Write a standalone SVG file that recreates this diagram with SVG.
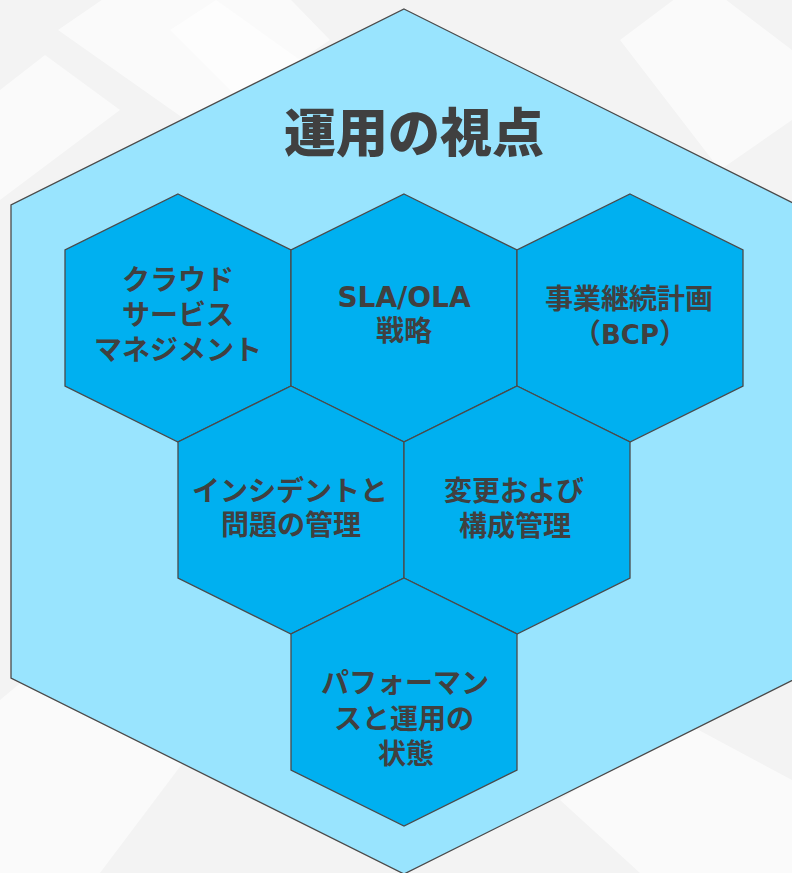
<svg xmlns="http://www.w3.org/2000/svg" width="792" height="873" viewBox="0 0 792 873">
  <defs>
    <style>
      .bg-shape { fill: #ffffff; opacity: 0.6; }
      .outer { fill: #99E4FE; stroke: #4A4A4A; stroke-width: 1.3; }
      .hex { fill: #00B0F0; stroke: #4A4A4A; stroke-width: 1.3; }
      .title { font-family: "Noto Sans CJK JP", "Noto Sans", sans-serif; font-weight: 900; font-size: 52px; fill: #404040; text-anchor: middle; }
      .lbl { font-family: "Noto Sans CJK JP", "Noto Sans", sans-serif; font-weight: 700; font-size: 28px; fill: #404040; text-anchor: middle; }
      .lat { font-family: "DejaVu Sans", "Noto Sans CJK JP", sans-serif; font-weight: 700; }
    </style>
  </defs>
  <rect x="0" y="0" width="792" height="873" fill="#F3F3F3"/>
  <g id="background">
    <polygon class="bg-shape" points="58,30 160,-40 300,60 200,130"/>
    <polygon class="bg-shape" points="170,30 262,-30 330,40 240,100"/>
    <polygon class="bg-shape" points="0,90 45,55 120,110 0,200"/>
    <polygon class="bg-shape" points="620,40 700,-20 792,50 792,120 720,170"/>
    <polygon class="bg-shape" points="0,700 60,650 200,740 100,873 0,873"/>
    <polygon class="bg-shape" points="560,800 680,720 792,780 792,873 640,873"/>
  </g>
  <g id="outer-hexagon">
    <polygon class="outer" points="404,9 797,205 797,678 404,874 11,678 11,205"/>
    <text class="title" x="414" y="152">運用の視点</text>
  </g>
  <g id="connectors"></g>
  <g id="node-cloud">
    <polygon class="hex" points="178,194 291,250 291,386 178,442 65,386 65,250"/>
    <text class="lbl"><tspan x="178" y="290">クラウド</tspan><tspan x="178" y="325">サービス</tspan><tspan x="178" y="360">マネジメント</tspan></text>
  </g>
  <g id="node-sla">
    <polygon class="hex" points="404,194 517,250 517,386 404,442 291,386 291,250"/>
    <text class="lbl" font-size="26"><tspan class="lat" x="404" y="307">SLA/OLA</tspan><tspan x="404" y="341">戦略</tspan></text>
  </g>
  <g id="node-bcp">
    <polygon class="hex" points="630,194 743,250 743,386 630,442 517,386 517,250"/>
    <text class="lbl"><tspan x="629" y="309">事業継続計画</tspan><tspan x="630" y="344">（<tspan class="lat" font-size="26">BCP</tspan>）</tspan></text>
  </g>
  <g id="node-incident">
    <polygon class="hex" points="291,386 404,442 404,578 291,634 178,578 178,442"/>
    <text class="lbl"><tspan x="290" y="501">インシデントと</tspan><tspan x="291" y="535">問題の管理</tspan></text>
  </g>
  <g id="node-change">
    <polygon class="hex" points="517,386 630,442 630,578 517,634 404,578 404,442"/>
    <text class="lbl"><tspan x="514" y="501">変更および</tspan><tspan x="515" y="536">構成管理</tspan></text>
  </g>
  <g id="node-performance">
    <polygon class="hex" points="404,578 517,634 517,770 404,826 291,770 291,634"/>
    <text class="lbl"><tspan x="405" y="693">パフォーマン</tspan><tspan x="404" y="729">スと運用の</tspan><tspan x="406" y="764">状態</tspan></text>
  </g>
</svg>
